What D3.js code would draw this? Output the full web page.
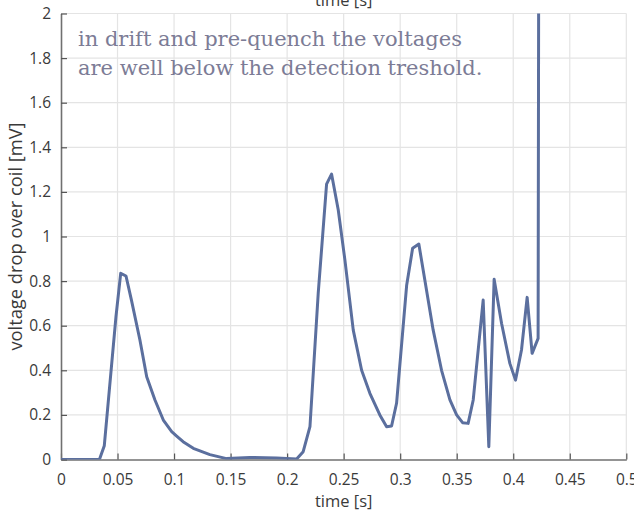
<!DOCTYPE html>
<html><head><meta charset="utf-8">
<script src="https://cdn.jsdelivr.net/npm/d3@7"></script>
<style>body{margin:0;background:#fff}svg{display:block}</style>
</head><body><svg id="c" width="634" height="512"></svg>
<script>
const timeS = [0, 0.034, 0.0383, 0.0486, 0.0528, 0.0575, 0.0623, 0.0698, 0.0758, 0.0831, 0.0905, 0.0979, 0.1023, 0.108, 0.117, 0.1317, 0.1465, 0.167, 0.1907, 0.2084, 0.2142, 0.2202, 0.2275, 0.2349, 0.2393, 0.2452, 0.2511, 0.2585, 0.2659, 0.2732, 0.282, 0.288, 0.2924, 0.2968, 0.3057, 0.311, 0.3165, 0.3218, 0.3292, 0.3366, 0.344, 0.3499, 0.3552, 0.3601, 0.3646, 0.3734, 0.3784, 0.3831, 0.3897, 0.397, 0.402, 0.4073, 0.4123, 0.4167, 0.422, 0.4226];
const voltageMV = [0, 0, 0.062, 0.64, 0.835, 0.823, 0.715, 0.536, 0.371, 0.267, 0.177, 0.125, 0.105, 0.08, 0.05, 0.022, 0.004, 0.009, 0.007, 0.002, 0.035, 0.147, 0.745, 1.235, 1.28, 1.12, 0.895, 0.58, 0.40, 0.297, 0.2, 0.147, 0.15, 0.252, 0.78, 0.947, 0.966, 0.805, 0.58, 0.40, 0.267, 0.2, 0.165, 0.162, 0.267, 0.715, 0.057, 0.808, 0.61, 0.431, 0.356, 0.491, 0.727, 0.476, 0.543, 2.5];
const xTicks = [0, 0.05, 0.1, 0.15, 0.2, 0.25, 0.3, 0.35, 0.4, 0.45, 0.5];
const yTicks = [0, 0.2, 0.4, 0.6, 0.8, 1, 1.2, 1.4, 1.6, 1.8, 2];
const xLabel = "time [s]";
const yLabel = "voltage drop over coil [mV]";
const noteLines = ["in drift and pre-quench the voltages", "are well below the detection treshold."];

const svg = d3.select("#c");
const L = 61, R = 626.3, T = 13.5, B = 459.5;
const x = d3.scaleLinear().domain([0, 0.5]).range([L, R]);
const y = d3.scaleLinear().domain([0, 2]).range([B, T]);
const fmt = d => d === 0 ? "0" : String(d);
const tickFont = "'Open Sans', sans-serif";

// grid
const g = svg.append("g");
g.selectAll(".gx").data(xTicks.filter(d => d > 0)).join("line")
  .attr("x1", d => x(d)).attr("x2", d => x(d)).attr("y1", T).attr("y2", B)
  .attr("stroke", "#e4e4e4").attr("stroke-width", 1.2);
g.selectAll(".gy").data(yTicks.filter(d => d > 0)).join("line")
  .attr("x1", L).attr("x2", R).attr("y1", d => y(d)).attr("y2", d => y(d))
  .attr("stroke", "#e4e4e4").attr("stroke-width", 1.2);

// axes
const ax = svg.append("g").attr("transform", `translate(0,${B})`)
  .call(d3.axisBottom(x).tickValues(xTicks).tickFormat(fmt).tickSizeInner(-6).tickSizeOuter(0).tickPadding(14));
const ay = svg.append("g").attr("transform", `translate(${L},0)`)
  .call(d3.axisLeft(y).tickValues(yTicks).tickFormat(fmt).tickSizeInner(-6).tickSizeOuter(0).tickPadding(10));
[ax, ay].forEach(a => {
  a.select(".domain").attr("stroke", "#707070").attr("stroke-width", 1.6);
  a.selectAll(".tick line").attr("stroke", "#555").attr("stroke-width", 1.2);
  a.selectAll(".tick text").attr("font-family", tickFont).attr("font-size", 15.5).attr("fill", "#3a3a3a");
});

// line
svg.append("clipPath").attr("id", "clip").append("rect")
  .attr("x", L).attr("y", T).attr("width", R - L).attr("height", B - T);
const data = timeS.map((t, i) => [t, voltageMV[i]]);
svg.append("path").datum(data).attr("clip-path", "url(#clip)")
  .attr("fill", "none").attr("stroke", "#5b6f9e").attr("stroke-width", 3)
  .attr("stroke-linejoin", "round")
  .attr("d", d3.line().x(d => x(d[0])).y(d => y(d[1])));

// labels
svg.append("text").attr("x", x(0.25)).attr("y", 507).attr("text-anchor", "middle")
  .attr("font-family", tickFont).attr("font-size", 16.5).attr("fill", "#3a3a3a").text(xLabel);
svg.append("text").attr("x", x(0.25)).attr("y", 6).attr("text-anchor", "middle")
  .attr("font-family", tickFont).attr("font-size", 16.5).attr("fill", "#3a3a3a").text(xLabel);
svg.append("text").attr("transform", `translate(22,${(T + B) / 2}) rotate(-90)`).attr("text-anchor", "middle")
  .attr("font-family", tickFont).attr("font-size", 18.3).attr("fill", "#3a3a3a").text(yLabel);

// annotation
svg.selectAll(".note").data(noteLines).join("text")
  .attr("x", 78).attr("y", (d, i) => 46 + i * 29)
  .attr("font-family", "'DejaVu Serif', serif").attr("font-size", 21).attr("fill", "#7c7c96").text(d => d);
</script></body></html>
